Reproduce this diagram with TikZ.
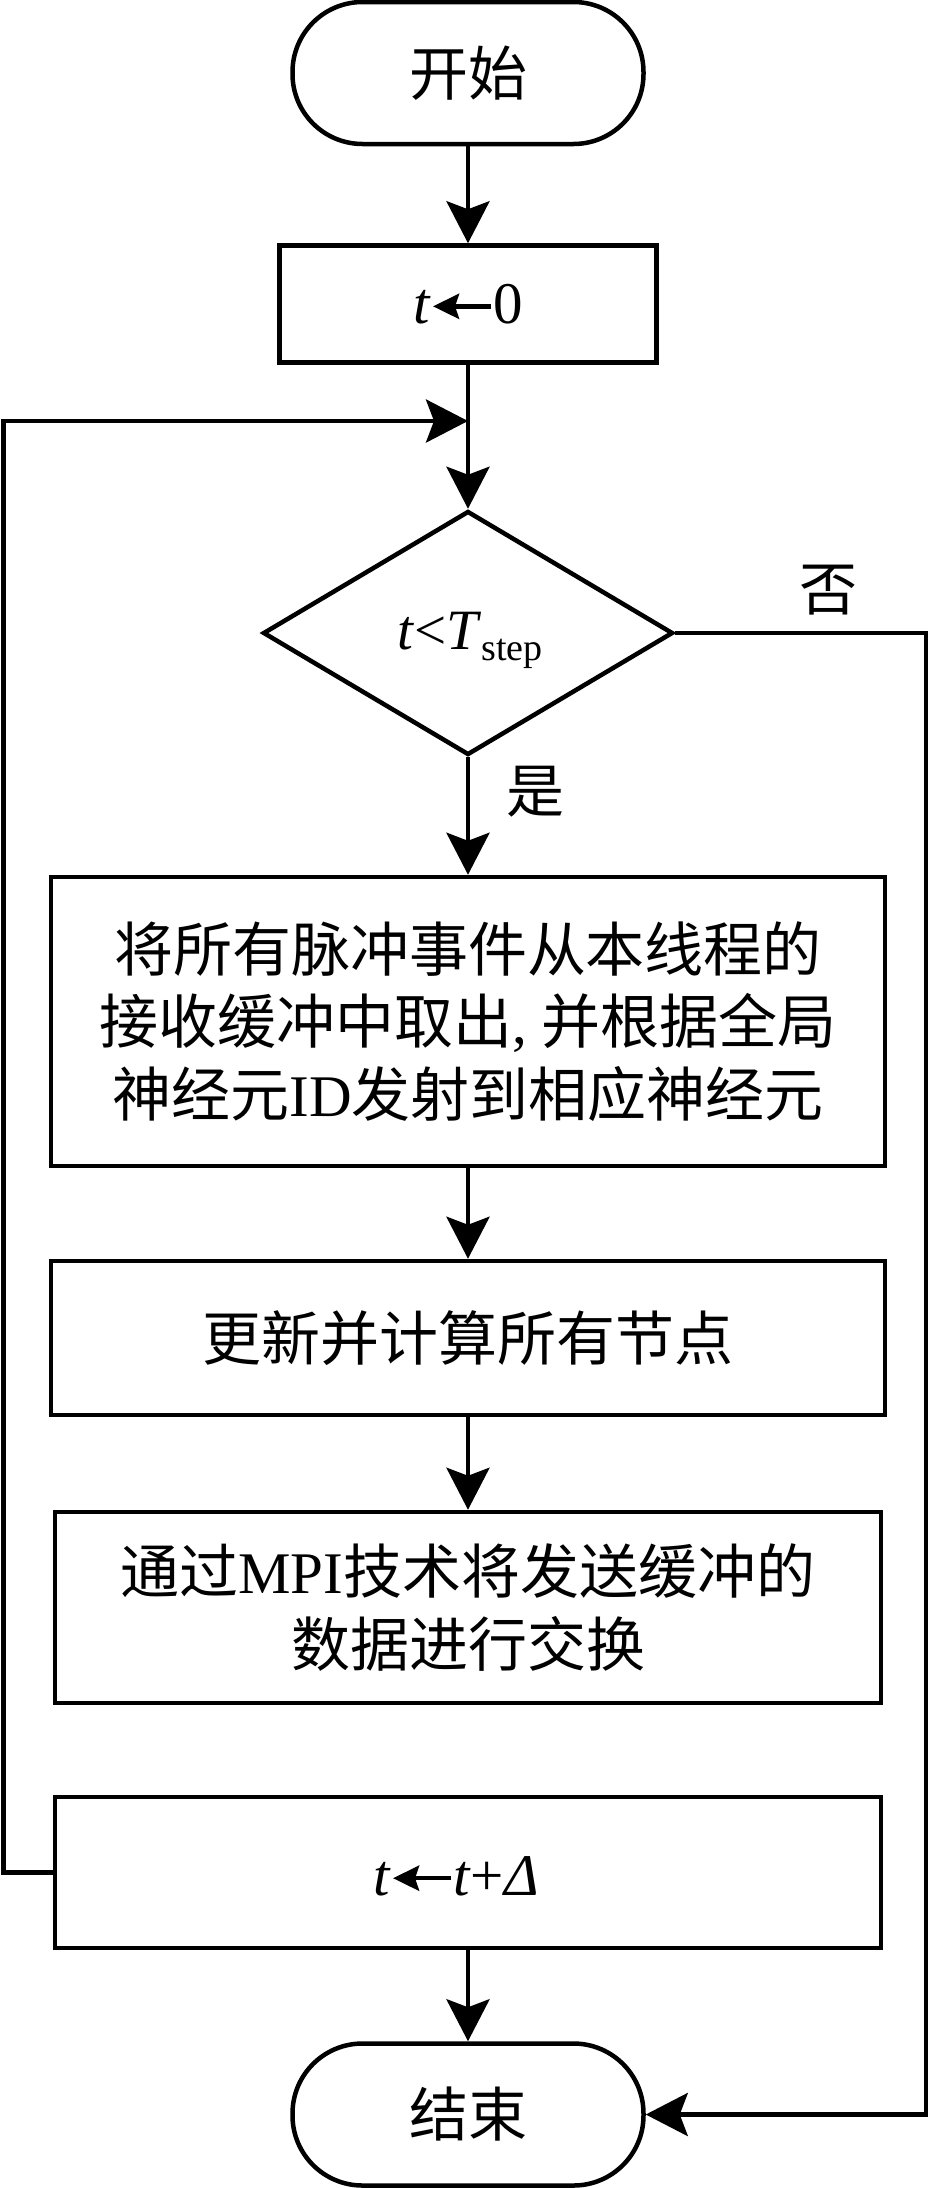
\documentclass[tikz,border=0pt]{standalone}
\usepackage{fontspec}
\setmainfont{Liberation Serif}
\newfontfamily\cjk{Noto Sans CJK SC}
\usetikzlibrary{shapes.geometric,arrows.meta}
\newcommand\larrow{\tikz[baseline=-17pt]{\draw[line width=4.5pt,-{Stealth[length=26pt,width=25pt,inset=4pt]}] (58pt,0pt) -- (0pt,0pt);}}
\begin{document}
\begin{tikzpicture}[x=1pt,y=-1pt,
  line width=4.5pt,
  txt/.style={font=\fontsize{59}{72.5}\selectfont, align=center},
  term/.style={draw, line width=4.5pt, rounded corners=70pt, minimum width=351pt, minimum height=142pt, inner sep=0pt, txt},
  proc/.style={draw, line width=4.5pt, inner sep=0pt, txt},
  dec/.style={draw, line width=4.5pt, diamond, minimum width=410pt, minimum height=244pt, inner sep=0pt, txt},
  lbl/.style={font=\fontsize{58}{60}\selectfont, inner sep=0pt},
  arr/.style={-{Stealth[length=42pt,width=43pt,inset=8pt]}}
]
\useasboundingbox (0,0) rectangle (931,2188);

\node[term] (start) at (468,73) {\cjk 开始};
\node[proc, minimum width=377pt, minimum height=117pt] (init) at (468,304) {\textit{t}\larrow0};
\node[dec] (cond) at (468,633) {};
\node[font=\fontsize{57}{60}\selectfont, inner sep=0pt] (condtxt) at (470,640) {\textit{t}<\textit{T}\raisebox{-11pt}{\fontsize{38}{38}\selectfont step}};
\node[proc, minimum width=834pt, minimum height=289pt] (b1) at (468,1021.5) {%
  {\cjk 将所有脉冲事件从本线程的}\\
  {\cjk 接收缓冲中取出}, {\cjk 并根据全局}\\
  {\cjk 神经元}ID{\cjk 发射到相应神经元}};
\node[proc, minimum width=834pt, minimum height=154pt] (b2) at (468,1338) {\cjk 更新并计算所有节点};
\node[proc, minimum width=826pt, minimum height=191pt] (b3) at (468,1607.5) {%
  {\cjk 通过}MPI{\cjk 技术将发送缓冲的}\\
  {\cjk 数据进行交换}};
\node[proc, minimum width=826pt, minimum height=151pt] (b4) at (468,1872.5) {};
\node[font=\fontsize{59}{60}\selectfont, inner sep=0pt] (b4txt) at (456,1876) {\textit{t}\larrow\textit{t}+\textit{Δ}};
\node[term] (stop) at (468,2114.5) {\cjk 结束};

\node[lbl] (yes) at (535,792) {\cjk 是};
\node[lbl] (no) at (828,590) {\cjk 否};

\coordinate (L1) at (3.5,1872.5);
\coordinate (L2) at (3.5,421);
\coordinate (M) at (468,421);
\coordinate (R1) at (926,633);
\coordinate (R2) at (926,2114.5);

\draw[arr] (start) -- (init);
\draw[arr] (init) -- (cond);
\draw[arr] (cond) -- (b1);
\draw[arr] (b1) -- (b2);
\draw[arr] (b2) -- (b3);
\draw[arr] (b4) -- (stop);
\draw[arr] (b4.west) -- (L1) -- (L2) -- (M);
\draw[arr] (cond.east) -- (R1) -- (R2) -- (stop.east);
\end{tikzpicture}
\end{document}
